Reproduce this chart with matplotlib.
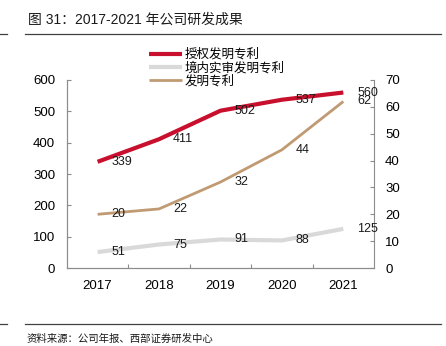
import matplotlib
matplotlib.use('Agg')
import matplotlib.pyplot as plt

plt.rcParams['font.family'] = ['Liberation Sans', 'Noto Sans CJK SC', 'DejaVu Sans']

years = ['2017', '2018', '2019', '2020', '2021']
granted = [339, 411, 502, 537, 560]        # 授权发明专利 (left axis)
examined = [51, 75, 91, 88, 125]           # 境内实审发明专利 (left axis)
invention = [20, 22, 32, 44, 62]           # 发明专利 (right axis)

red = '#C8102E'
grey = '#D9D9D9'
tan = '#C09A73'
spine_c = '#8C8C8C'

fig = plt.figure(figsize=(4.46, 3.46), dpi=100)
ax = fig.add_axes([0.150, 0.2254, 0.6886, 0.5434])
ax2 = ax.twinx()

x = range(len(years))
l1, = ax.plot(x, granted, color=red, lw=3, solid_capstyle='butt', zorder=3)
l2, = ax.plot(x, examined, color=grey, lw=3, solid_capstyle='butt', zorder=2)
l3, = ax2.plot(x, invention, color=tan, lw=2, solid_capstyle='butt', zorder=2)

for xi, v in zip(x, granted):
    ax.annotate(str(v), (xi, v), xytext=(10, 0), textcoords='offset points',
                ha='left', va='center', fontsize=9, color='#1a1a1a', zorder=5)
for xi, v in zip(x, examined):
    ax.annotate(str(v), (xi, v), xytext=(10, 0), textcoords='offset points',
                ha='left', va='center', fontsize=9, color='#1a1a1a', zorder=5)
for xi, v in zip(x, invention):
    ax2.annotate(str(v), (xi, v), xytext=(10, 0), textcoords='offset points',
                 ha='left', va='center', fontsize=9, color='#1a1a1a', zorder=5)

ax.set_xlim(-0.5, 4.5)
ax.set_ylim(0, 600)
ax2.set_ylim(0, 70)
ax.set_yticks(range(0, 601, 100))
ax2.set_yticks(range(0, 71, 10))

# category ticks at boundaries, labels at centers
ax.set_xticks([0.5, 1.5, 2.5, 3.5])
ax.set_xticklabels([])
ax.set_xticks(list(x), minor=True)
ax.set_xticklabels(years, minor=True)
ax.tick_params(axis='x', which='minor', length=0, pad=8.5, labelsize=9.5)
ax.tick_params(axis='x', which='major', direction='in', length=3, color=spine_c)

ax.tick_params(axis='y', direction='in', length=3, color=spine_c, pad=8.5, labelsize=9.5)
ax2.tick_params(axis='y', direction='in', length=3, color=spine_c, pad=8, labelsize=9.5)

for a in (ax, ax2):
    a.spines['top'].set_visible(False)
    for s in ('left', 'right', 'bottom'):
        a.spines[s].set_color(spine_c)
        a.spines[s].set_linewidth(0.8)
ax.spines['right'].set_visible(False)

ax.set_zorder(ax2.get_zorder() + 1)
ax.patch.set_visible(False)

fig.legend([l1, l2, l3], ['授权发明专利', '境内实审发明专利', '发明专利'],
           loc='upper left', bbox_to_anchor=(0.335, 0.86), frameon=False,
           fontsize=9, handlelength=2.6, handletextpad=0.2, labelspacing=0.05,
           borderpad=0, borderaxespad=0)

# title and rules
fig.text(28 / 446, 1 - 20 / 346, '图 31：2017-2021 年公司研发成果', fontsize=10,
         ha='left', va='center', color='#1a1a1a')
for yy in (34, 324):
    fig.add_artist(plt.Line2D([25 / 446, 441 / 446], [1 - yy / 346] * 2,
                              color='#404040', lw=0.9))
    fig.add_artist(plt.Line2D([0, 7 / 446], [1 - yy / 346] * 2,
                              color='#404040', lw=0.9))
fig.text(27 / 446, 1 - 339 / 346, '资料来源：公司年报、西部证券研发中心', fontsize=7.5,
         ha='left', va='center', color='#1a1a1a')

fig.savefig('out.png', dpi=100)
